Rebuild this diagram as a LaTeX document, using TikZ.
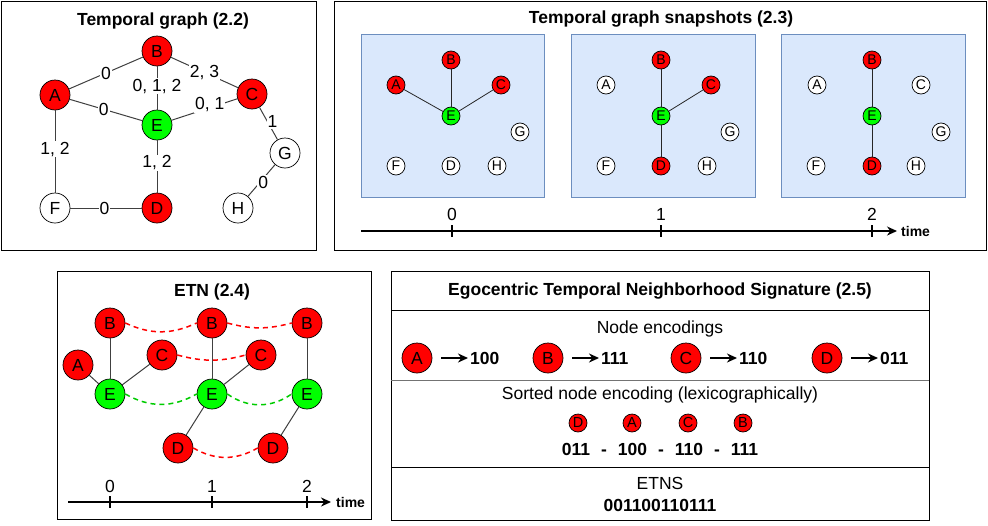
\documentclass[tikz,border=0pt]{standalone}
\usepackage{fontspec}
\setmainfont{Liberation Sans}
\usetikzlibrary{arrows.meta}
\definecolor{nred}{HTML}{FF0000}
\definecolor{ngreen}{HTML}{00FF00}
\definecolor{snapfill}{HTML}{DAE8FC}
\definecolor{snapdraw}{HTML}{6C8EBF}
\newcommand{\myfs}[1]{\fontsize{#1}{#1}\selectfont}
\begin{document}
\begin{tikzpicture}[x=1pt,y=-1pt,
  bignode/.style={circle,draw=black,line width=0.7pt,minimum size=30pt,inner sep=0pt,font=\myfs{17.5}},
  smallnode/.style={circle,draw=black,line width=0.7pt,minimum size=18pt,inner sep=0pt,font=\myfs{14}},
  gline/.style={draw=black!75,line width=1pt},
  sline/.style={draw=black!85,line width=0.8pt},
  elab/.style={fill=white,inner sep=1pt,font=\myfs{17.5}},
  txt/.style={inner sep=0pt,font=\myfs{17.5}},
  btxt/.style={inner sep=0pt,font=\myfs{17.5}\bfseries},
  panel/.style={draw=black,line width=1pt},
  reddash/.style={draw=nred,line width=1.5pt,dash pattern=on 5pt off 4pt},
  greendash/.style={draw=ngreen!80!black,line width=1.5pt,dash pattern=on 5pt off 4pt},
  tline/.style={draw=black,line width=1.5pt},
  encarrow/.style={draw=black,line width=2pt,-{Stealth[length=10pt,width=9pt]}},
  timearrow/.style={draw=black,line width=1.5pt,-{Stealth[length=10pt,width=9pt]}}
]
\useasboundingbox (0,0) rectangle (988,525);
\fill[white] (0,0) rectangle (988,525);

% ---------------- Panel 1 ----------------
\draw[panel] (1,1) rectangle (316,250);
\node[btxt] (t1) at (163,21) {Temporal graph (2.2)};
\node[bignode,fill=nred]   (A) at (55,95) {A};
\node[bignode,fill=nred]   (B) at (157,51) {B};
\node[bignode,fill=nred]   (C) at (252,94) {C};
\node[bignode,fill=ngreen] (E) at (157,125) {E};
\node[bignode,fill=white]  (G) at (285,153) {G};
\node[bignode,fill=white]  (F) at (55,208) {F};
\node[bignode,fill=nred]   (D) at (157,208) {D};
\node[bignode,fill=white]  (H) at (238,208) {H};
\draw[gline] (A) -- node[elab,pos=.5]{0} (B);
\draw[gline] (B) -- node[elab,pos=.46]{0, 1, 2} (E);
\draw[gline] (B) -- node[elab,pos=.5]{2, 3} (C);
\draw[gline] (A) -- node[elab,pos=.47]{0} (E);
\draw[gline] (E) -- node[elab,pos=.58,yshift=3pt]{0, 1} (C);
\draw[gline] (C) -- node[elab,pos=.45,xshift=5pt]{1} (G);
\draw[gline] (A) -- node[elab,pos=.47]{1, 2} (F);
\draw[gline] (E) -- node[elab,pos=.43]{1, 2} (D);
\draw[gline] (F) -- node[elab,pos=.48]{0} (D);
\draw[gline] (G) -- node[elab,pos=.55,xshift=3pt]{0} (H);

% ---------------- Panel 2 ----------------
\draw[panel] (334,1) rectangle (986,250);
\node[btxt] (t2) at (661,19) {Temporal graph snapshots (2.3)};
\draw[snapdraw,fill=snapfill,line width=1pt] (361,34) rectangle (544,197);
\draw[snapdraw,fill=snapfill,line width=1pt] (571,34) rectangle (755,197);
\draw[snapdraw,fill=snapfill,line width=1pt] (781,34) rectangle (965,197);
% snapshot 0
\begin{scope}[xshift=0pt]
\node[smallnode,fill=nred]   (s0A) at (396,85) {A};
\node[smallnode,fill=nred]   (s0B) at (451,60) {B};
\node[smallnode,fill=nred]   (s0C) at (501,85) {C};
\node[smallnode,fill=ngreen] (s0E) at (451,116) {E};
\node[smallnode,fill=white]  (s0G) at (520,132) {G};
\node[smallnode,fill=white]  (s0F) at (396,166) {F};
\node[smallnode,fill=white]  (s0D) at (451,166) {D};
\node[smallnode,fill=white]  (s0H) at (497,166) {H};
\draw[sline] (s0A) -- (s0E);
\draw[sline] (s0B) -- (s0E);
\draw[sline] (s0C) -- (s0E);
\end{scope}
% snapshot 1
\begin{scope}[xshift=210pt]
\node[smallnode,fill=white]  (s1A) at (396,85) {A};
\node[smallnode,fill=nred]   (s1B) at (451,60) {B};
\node[smallnode,fill=nred]   (s1C) at (501,85) {C};
\node[smallnode,fill=ngreen] (s1E) at (451,116) {E};
\node[smallnode,fill=white]  (s1G) at (520,132) {G};
\node[smallnode,fill=white]  (s1F) at (396,166) {F};
\node[smallnode,fill=nred]   (s1D) at (451,166) {D};
\node[smallnode,fill=white]  (s1H) at (497,166) {H};
\draw[sline] (s1B) -- (s1E);
\draw[sline] (s1C) -- (s1E);
\draw[sline] (s1E) -- (s1D);
\end{scope}
% snapshot 2
\begin{scope}[xshift=421pt]
\node[smallnode,fill=white]  (s2A) at (396,85) {A};
\node[smallnode,fill=nred]   (s2B) at (451,60) {B};
\node[smallnode,fill=white]  (s2C) at (500,85) {C};
\node[smallnode,fill=ngreen] (s2E) at (451,116) {E};
\node[smallnode,fill=white]  (s2G) at (520,132) {G};
\node[smallnode,fill=white]  (s2F) at (395,166) {F};
\node[smallnode,fill=nred]   (s2D) at (451,166) {D};
\node[smallnode,fill=white]  (s2H) at (495,166) {H};
\draw[sline] (s2B) -- (s2E);
\draw[sline] (s2E) -- (s2D);
\end{scope}
% timeline
\coordinate (pa0) at (361,231);
\coordinate (pa1) at (897,231);
\draw[timearrow] (pa0) -- (pa1);
\node[btxt,anchor=west,font=\myfs{14}\bfseries] (ptime) at (901,231) {time};
\foreach \x/\l in {452/0,661/1,872/2}{
  \draw[tline] (\x,225) -- (\x,237);
  \node[txt] (pt\l) at (\x,214) {\l};
}

% ---------------- Panel 3 ----------------
\draw[panel] (57,271) rectangle (371,519);
\node[btxt] (t3) at (212,292) {ETN (2.4)};
\node[bignode,fill=nred]   (B0) at (110,323) {B};
\node[bignode,fill=nred]   (B1) at (212,323) {B};
\node[bignode,fill=nred]   (B2) at (307,323) {B};
\node[bignode,fill=nred]   (A0) at (78,365) {A};
\node[bignode,fill=nred]   (C0) at (162,355) {C};
\node[bignode,fill=nred]   (C1) at (261,355) {C};
\node[bignode,fill=ngreen] (E0) at (110,394) {E};
\node[bignode,fill=ngreen] (E1) at (212,394) {E};
\node[bignode,fill=ngreen] (E2) at (307,394) {E};
\node[bignode,fill=nred]   (D0) at (178,448) {D};
\node[bignode,fill=nred]   (D1) at (273,448) {D};
\draw[gline] (A0) -- (E0);
\draw[gline] (B0) -- (E0);
\draw[gline] (C0) -- (E0);
\draw[gline] (B1) -- (E1);
\draw[gline] (C1) -- (E1);
\draw[gline] (E1) -- (D0);
\draw[gline] (B2) -- (E2);
\draw[gline] (E2) -- (D1);
\draw[reddash] (B0.east) to[out=-25,in=205] (B1.west);
\draw[reddash] (B1.east) to[out=-15,in=195] (B2.west);
\draw[reddash] (C0.east) to[out=-15,in=195] (C1.west);
\draw[greendash] (E0.east) to[out=-30,in=210] (E1.west);
\draw[greendash] (E1.east) to[out=-35,in=215] (E2.west);
\draw[reddash] (D0.east) to[out=-30,in=210] (D1.west);
\coordinate (ea0) at (68,502);
\coordinate (ea1) at (331,502);
\draw[timearrow] (ea0) -- (ea1);
\node[btxt,anchor=west,font=\myfs{14}\bfseries] (etime) at (336,502) {time};
\foreach \x/\l in {110/0,212/1,307/2}{
  \draw[tline] (\x,496) -- (\x,508);
  \node[txt] (et\l) at (\x,486) {\l};
}

% ---------------- Panel 4 ----------------
\draw[panel] (391,271) rectangle (929,520);
\draw[draw=black,line width=1pt] (391,310) -- (929,310);
\draw[draw=black!55,line width=1pt] (391,380) -- (929,380);
\draw[draw=black,line width=1pt] (391,467) -- (929,467);
\node[btxt] (t4) at (660,291) {Egocentric Temporal Neighborhood Signature (2.5)};
\node[txt] (ne) at (660,329) {Node encodings};
\node[bignode,fill=nred] (nA) at (417,358) {A};
\node[bignode,fill=nred] (nB) at (548,358) {B};
\node[bignode,fill=nred] (nC) at (686,358) {C};
\node[bignode,fill=nred] (nD) at (827,358) {D};
\node[btxt,anchor=west] (cA) at (470,358) {100};
\node[btxt,anchor=west] (cB) at (601,358) {111};
\node[btxt,anchor=west] (cC) at (739,358) {110};
\node[btxt,anchor=west] (cD) at (880,358) {011};
\draw[encarrow] ([xshift=9pt]nA.east) -- ([xshift=-2pt]cA.west);
\draw[encarrow] ([xshift=9pt]nB.east) -- ([xshift=-2pt]cB.west);
\draw[encarrow] ([xshift=9pt]nC.east) -- ([xshift=-2pt]cC.west);
\draw[encarrow] ([xshift=9pt]nD.east) -- ([xshift=-2pt]cD.west);
\node[txt] (sne) at (660,395) {Sorted node encoding (lexicographically)};
\node[smallnode,fill=nred,font=\myfs{14.5}] (oD) at (578,423) {D};
\node[smallnode,fill=nred,font=\myfs{14.5}] (oA) at (632,423) {A};
\node[smallnode,fill=nred,font=\myfs{14.5}] (oC) at (688,423) {C};
\node[smallnode,fill=nred,font=\myfs{14.5}] (oB) at (743,423) {B};
\node[btxt] (sc) at (660,449) {011\hspace{11pt}-\hspace{11pt}100\hspace{11pt}-\hspace{11pt}110\hspace{11pt}-\hspace{11pt}111};
\node[txt] (etns) at (660,483) {ETNS};
\node[btxt] (etv) at (660,505) {001100110111};
\end{tikzpicture}
\end{document}
